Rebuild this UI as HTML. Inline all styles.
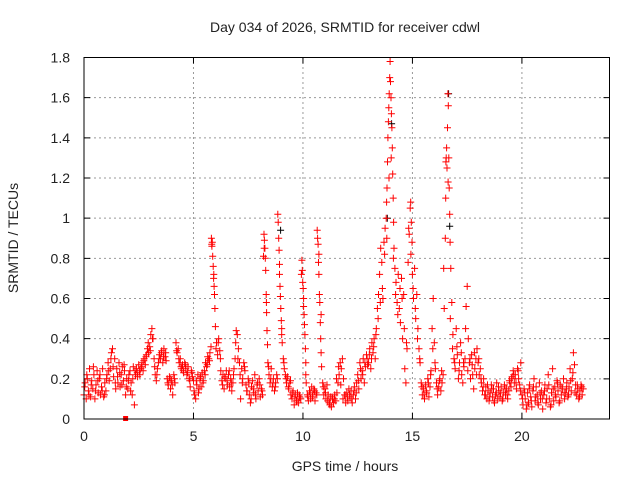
<!DOCTYPE html>
<html><head><meta charset="utf-8"><style>
body{margin:0;background:#fff}
svg text{font-family:"Liberation Sans",sans-serif;fill:#222}
</style></head><body>
<svg id="chart" width="640" height="480" viewBox="0 0 640 480" xmlns="http://www.w3.org/2000/svg">
<rect width="640" height="480" fill="#fff"/>
<text x="345" y="32" font-size="14" text-anchor="middle">Day 034 of 2026, SRMTID for receiver cdwl</text>
<text transform="translate(18,238) rotate(-90)" font-size="14" text-anchor="middle">SRMTID / TECUs</text>
<text x="345" y="471" font-size="14" text-anchor="middle">GPS time / hours</text>
<g id="grid"></g>
<g id="ticks"></g>
<g id="marks"></g>
<rect x="84" y="57.5" width="525.5" height="361.5" fill="none" stroke="#000" stroke-width="1"/>
</svg>
<script>
const xTicks=[0,5,10,15,20];
const yTicks=[0,0.2,0.4,0.6,0.8,1,1.2,1.4,1.6,1.8];
const yTickLabels=["0","0.2","0.4","0.6","0.8","1","1.2","1.4","1.6","1.8"];
const hours=[
0.00,0.05,0.10,0.15,0.20,0.25,0.30,0.35,0.40,0.45,
0.50,0.55,0.60,0.65,0.70,0.75,0.80,0.85,0.90,0.95,
1.00,1.05,1.10,1.15,1.20,1.25,1.30,1.35,1.40,1.45,
1.50,1.55,1.60,1.65,1.70,1.75,1.80,1.85,1.90,1.95,
2.00,2.05,2.10,2.15,2.20,2.25,2.30,2.35,2.40,2.45,
2.50,2.55,2.60,2.65,2.70,2.75,2.80,2.85,2.90,2.95,
3.00,3.05,3.10,3.15,3.20,3.25,3.30,3.35,3.40,3.45,
3.50,3.55,3.60,3.65,3.70,3.75,3.80,3.85,3.90,3.95,
4.00,4.05,4.10,4.15,4.20,4.25,4.30,4.35,4.40,4.45,
4.50,4.55,4.60,4.65,4.70,4.75,4.80,4.85,4.90,4.95,
5.00,5.05,5.10,5.15,5.20,5.25,5.30,5.35,5.40,5.45,
5.50,5.55,5.60,5.65,5.70,5.75,5.80,5.82,5.84,5.86,
5.88,5.90,5.92,5.94,5.96,5.98,6.00,6.05,6.10,6.15,
6.20,6.25,6.30,6.35,6.40,6.45,6.50,6.55,6.60,6.65,
6.70,6.75,6.80,6.85,6.90,6.95,7.00,7.05,7.10,7.15,
7.20,7.25,7.30,7.35,7.40,7.45,7.50,7.55,7.60,7.65,
7.70,7.75,7.80,7.85,7.90,7.95,8.00,8.05,8.10,8.15,
8.20,8.22,8.24,8.26,8.28,8.30,8.32,8.34,8.36,8.38,
8.40,8.45,8.50,8.55,8.60,8.65,8.70,8.75,8.80,8.85,
8.87,8.89,8.91,8.93,8.95,8.97,8.99,9.01,9.03,9.05,
9.10,9.15,9.20,9.25,9.30,9.35,9.40,9.45,9.50,9.55,
9.60,9.65,9.70,9.75,9.80,9.85,9.90,9.95,9.97,9.99,
10.01,10.03,10.05,10.07,10.09,10.11,10.13,10.15,10.20,10.25,
10.30,10.35,10.40,10.45,10.50,10.55,10.60,10.65,10.67,10.69,
10.71,10.73,10.75,10.77,10.79,10.81,10.83,10.85,10.90,10.95,
11.00,11.05,11.10,11.15,11.20,11.25,11.30,11.35,11.40,11.45,
11.50,11.55,11.60,11.65,11.70,11.75,11.80,11.85,11.90,11.95,
12.00,12.05,12.10,12.15,12.20,12.25,12.30,12.35,12.40,12.45,
12.50,12.55,12.60,12.65,12.70,12.75,12.80,12.85,12.90,12.95,
13.00,13.05,13.10,13.15,13.20,13.25,13.30,13.35,13.40,13.45,
13.50,13.55,13.60,13.65,13.70,13.75,13.80,13.82,13.84,13.86,
13.88,13.90,13.92,13.94,13.96,13.98,14.00,14.02,14.04,14.06,
14.08,14.10,14.12,14.14,14.16,14.20,14.25,14.30,14.35,14.40,
14.45,14.50,14.55,14.60,14.65,14.70,14.75,14.80,14.85,14.90,
14.92,14.95,14.98,15.00,15.05,15.10,15.15,15.20,15.25,15.30,
15.35,15.40,15.45,15.50,15.55,15.60,15.65,15.70,15.75,15.80,
15.85,15.90,15.95,16.00,16.05,16.10,16.15,16.20,16.25,16.30,
16.35,16.40,16.45,16.50,16.52,16.54,16.56,16.58,16.60,16.62,
16.64,16.66,16.68,16.70,16.72,16.75,16.80,16.85,16.90,16.95,
17.00,17.05,17.10,17.15,17.20,17.25,17.30,17.35,17.40,17.45,
17.50,17.55,17.60,17.65,17.70,17.75,17.80,17.85,17.90,17.95,
18.00,18.05,18.10,18.15,18.20,18.25,18.30,18.35,18.40,18.45,
18.50,18.55,18.60,18.65,18.70,18.75,18.80,18.85,18.90,18.95,
19.00,19.05,19.10,19.15,19.20,19.25,19.30,19.35,19.40,19.45,
19.50,19.55,19.60,19.65,19.70,19.75,19.80,19.85,19.90,19.95,
20.00,20.05,20.10,20.15,20.20,20.25,20.30,20.35,20.40,20.45,
20.50,20.55,20.60,20.65,20.70,20.75,20.80,20.85,20.90,20.95,
21.00,21.05,21.10,21.15,21.20,21.25,21.30,21.35,21.40,21.45,
21.50,21.55,21.60,21.65,21.70,21.75,21.80,21.85,21.90,21.95,
22.00,22.05,22.10,22.15,22.20,22.25,22.30,22.35,22.40,22.45,
22.50,22.55,22.60,22.65,22.70,22.75,22.80];
const tecu=[
0.12,0.18,0.10,0.20,0.14,0.25,0.11,0.19,0.15,0.22,
0.10,0.17,0.24,0.13,0.20,0.12,0.16,0.25,0.11,0.18,
0.14,0.22,0.28,0.19,0.25,0.33,0.35,0.21,0.30,0.15,
0.25,0.18,0.28,0.16,0.22,0.26,0.19,0.24,0.12,0.20,
0.15,0.22,0.24,0.18,0.12,0.26,0.07,0.22,0.25,0.21,
0.27,0.22,0.25,0.28,0.24,0.30,0.27,0.32,0.35,0.33,
0.36,0.42,0.45,0.40,0.30,0.22,0.19,0.25,0.28,0.32,
0.30,0.34,0.28,0.35,0.31,0.29,0.20,0.17,0.21,0.15,
0.19,0.12,0.22,0.18,0.38,0.33,0.35,0.28,0.30,0.25,
0.27,0.23,0.28,0.25,0.22,0.26,0.20,0.16,0.24,0.21,
0.19,0.12,0.10,0.17,0.22,0.15,0.20,0.16,0.23,0.19,
0.24,0.28,0.26,0.31,0.30,0.33,0.36,0.90,0.86,0.88,
0.81,0.76,0.70,0.66,0.62,0.55,0.46,0.38,0.32,0.40,
0.34,0.24,0.19,0.22,0.15,0.20,0.24,0.17,0.22,0.16,
0.20,0.14,0.18,0.25,0.30,0.44,0.42,0.35,0.28,0.10,
0.25,0.20,0.28,0.24,0.17,0.14,0.20,0.12,0.08,0.16,
0.19,0.13,0.22,0.10,0.17,0.14,0.20,0.11,0.15,0.12,
0.81,0.92,0.89,0.85,0.80,0.74,0.62,0.53,0.44,0.37,
0.28,0.22,0.18,0.25,0.16,0.20,0.14,0.18,0.22,1.02,
0.98,0.90,0.84,0.77,0.66,0.61,0.55,0.49,0.45,0.38,
0.30,0.25,0.22,0.18,0.21,0.15,0.18,0.12,0.10,0.14,
0.07,0.12,0.09,0.13,0.08,0.11,0.10,0.79,0.74,0.68,
0.65,0.60,0.52,0.47,0.42,0.35,0.28,0.18,0.12,0.09,
0.14,0.10,0.16,0.12,0.15,0.09,0.13,0.94,0.90,0.87,
0.78,0.72,0.62,0.58,0.48,0.40,0.33,0.26,0.18,0.12,
0.15,0.10,0.17,0.12,0.08,0.11,0.06,0.10,0.08,0.12,
0.09,0.13,0.18,0.22,0.28,0.25,0.30,0.20,0.12,0.08,
0.13,0.09,0.15,0.11,0.14,0.08,0.12,0.16,0.10,0.18,
0.22,0.15,0.28,0.20,0.24,0.30,0.18,0.26,0.32,0.27,
0.28,0.35,0.25,0.38,0.33,0.40,0.30,0.45,0.55,0.62,
0.72,0.85,0.78,0.60,0.88,0.95,1.00,1.08,1.15,1.28,
1.40,1.48,1.55,1.62,1.70,1.78,1.68,1.60,1.52,1.45,
1.35,1.22,1.10,0.98,0.85,0.75,0.68,0.58,0.72,0.55,
0.48,0.70,0.40,0.62,0.25,0.18,0.35,0.78,0.92,1.05,
1.08,0.98,0.88,0.72,0.60,0.75,0.50,0.62,0.45,0.35,
0.28,0.18,0.12,0.15,0.10,0.17,0.13,0.20,0.11,0.16,
0.24,0.45,0.60,0.38,0.25,0.18,0.12,0.16,0.20,0.14,
0.18,0.22,0.55,0.90,1.10,1.30,1.35,1.25,1.45,1.62,
1.56,1.30,1.15,1.02,0.88,0.75,0.58,0.42,0.30,0.25,
0.45,0.32,0.20,0.28,0.38,0.22,0.18,0.26,0.30,0.56,
0.66,0.40,0.28,0.20,0.32,0.22,0.15,0.25,0.30,0.35,
0.28,0.22,0.25,0.18,0.14,0.20,0.12,0.16,0.10,0.14,
0.09,0.13,0.17,0.11,0.15,0.08,0.12,0.18,0.10,0.14,
0.11,0.16,0.09,0.13,0.17,0.12,0.15,0.10,0.14,0.18,
0.16,0.21,0.24,0.18,0.22,0.15,0.25,0.20,0.17,0.28,
0.12,0.07,0.15,0.10,0.05,0.13,0.08,0.17,0.11,0.06,
0.14,0.20,0.09,0.16,0.12,0.07,0.18,0.10,0.14,0.05,
0.12,0.17,0.08,0.15,0.22,0.10,0.06,0.13,0.25,0.09,
0.16,0.11,0.19,0.14,0.08,0.17,0.12,0.15,0.20,0.10,
0.13,0.18,0.11,0.16,0.25,0.14,0.20,0.33,0.27,0.17,
0.12,0.15,0.10,0.14,0.17,0.12,0.15];
const hoursExtra=[
0.03,0.13,0.23,0.33,0.43,0.53,0.63,0.73,0.83,0.93,
1.03,1.13,1.23,1.33,1.43,1.53,1.63,1.73,1.83,1.93,
2.03,2.13,2.23,2.33,2.43,2.53,2.63,2.73,2.83,2.93,
3.03,3.13,3.23,3.33,3.43,3.53,3.63,3.73,3.83,3.93,
4.03,4.13,4.23,4.33,4.43,4.53,4.63,4.73,4.83,4.93,
5.03,5.13,5.23,5.33,5.43,5.53,5.63,5.73,5.83,5.93,
6.03,6.13,6.23,6.33,6.43,6.53,6.63,6.73,6.83,6.93,
7.03,7.13,7.23,7.33,7.43,7.53,7.63,7.73,7.83,7.93,
8.03,8.13,8.23,8.33,8.43,8.53,8.63,8.73,8.83,8.93,
9.03,9.13,9.23,9.33,9.43,9.53,9.63,9.73,9.83,9.93,
10.03,10.13,10.23,10.33,10.43,10.53,10.63,10.73,10.83,10.93,
11.03,11.13,11.23,11.33,11.43,11.53,11.63,11.73,11.83,11.93,
12.03,12.13,12.23,12.33,12.43,12.53,12.63,12.73,12.83,12.93,
13.03,13.13,13.23,13.33,13.43,13.53,13.63,13.73,13.83,13.93,
14.03,14.13,14.23,14.33,14.43,14.53,14.63,14.73,14.83,14.93,
15.03,15.13,15.23,15.33,15.43,15.53,15.63,15.73,15.83,15.93,
16.03,16.13,16.23,16.33,16.43,16.53,16.63,16.73,16.83,16.93,
17.03,17.13,17.23,17.33,17.43,17.53,17.63,17.73,17.83,17.93,
18.03,18.13,18.23,18.33,18.43,18.53,18.63,18.73,18.83,18.93,
19.03,19.13,19.23,19.33,19.43,19.53,19.63,19.73,19.83,19.93,
20.03,20.13,20.23,20.33,20.43,20.53,20.63,20.73,20.83,20.93,
21.03,21.13,21.23,21.33,21.43,21.53,21.63,21.73,21.83,21.93,
22.03,22.13,22.23,22.33,22.43,22.53,22.63,22.73];
const tecuExtra=[
0.16,0.22,0.12,0.17,0.26,0.14,0.19,0.22,0.14,0.12,
0.20,0.24,0.30,0.26,0.18,0.21,0.23,0.17,0.27,0.16,
0.19,0.14,0.20,0.24,0.23,0.24,0.26,0.29,0.31,0.38,
0.34,0.40,0.26,0.22,0.30,0.33,0.31,0.33,0.18,0.20,
0.17,0.20,0.34,0.30,0.26,0.24,0.27,0.23,0.19,0.23,
0.14,0.19,0.13,0.21,0.18,0.22,0.27,0.29,0.87,0.72,
0.35,0.38,0.30,0.17,0.21,0.19,0.24,0.18,0.22,0.38,
0.30,0.22,0.18,0.26,0.14,0.18,0.10,0.15,0.12,0.18,
0.17,0.14,0.85,0.58,0.26,0.20,0.18,0.16,0.20,0.72,
0.42,0.28,0.20,0.16,0.19,0.13,0.11,0.09,0.12,0.72,
0.56,0.22,0.11,0.13,0.11,0.14,0.12,0.82,0.52,0.16,
0.13,0.09,0.07,0.11,0.10,0.20,0.26,0.17,0.10,0.12,
0.11,0.12,0.10,0.14,0.13,0.19,0.25,0.22,0.28,0.30,
0.32,0.30,0.36,0.42,0.50,0.58,0.65,0.82,0.90,1.20,
1.30,0.80,0.62,0.52,0.65,0.60,0.45,0.38,0.95,0.82,
0.65,0.55,0.40,0.30,0.16,0.12,0.14,0.18,0.22,0.35,
0.28,0.15,0.19,0.24,0.75,1.28,1.18,0.50,0.35,0.28,
0.36,0.24,0.33,0.28,0.45,0.24,0.30,0.27,0.33,0.22,
0.30,0.20,0.16,0.12,0.17,0.11,0.15,0.09,0.13,0.16,
0.13,0.10,0.15,0.12,0.19,0.20,0.22,0.18,0.24,0.14,
0.10,0.13,0.07,0.15,0.09,0.16,0.11,0.08,0.13,0.10,
0.14,0.10,0.17,0.07,0.15,0.12,0.18,0.09,0.16,0.13,
0.15,0.12,0.19,0.23,0.13,0.17,0.11,0.16];
const hoursBlack=[8.98,13.85,14.05,16.65,16.7];
const tecuBlack=[0.94,1.00,1.47,1.62,0.96];
const hoursZero=[1.9];
const tecuZero=[0];

const X0=84,X1=609.5,Y0=419,Y1=57.5,XMAX=24,YMAX=1.8;
const xs=h=>X0+(X1-X0)*h/XMAX;
const ys=v=>Y0-(Y0-Y1)*v/YMAX;
const NS="http://www.w3.org/2000/svg";
const grid=document.getElementById('grid'),ticks=document.getElementById('ticks'),marks=document.getElementById('marks');
function mk(tag,attrs,parent){const e=document.createElementNS(NS,tag);for(const k in attrs)e.setAttribute(k,attrs[k]);parent.appendChild(e);return e;}
yTicks.forEach((v,i)=>{
  const y=ys(v);
  if(v>0&&v<YMAX){
    const g=mk('line',{x1:X0,x2:X1,y1:y,y2:y,stroke:'#999','stroke-dasharray':'2,3'},grid);
    
    
  }
  const t=mk('path',{d:`M${X0} ${y}h6M${X1} ${y}h-6`,stroke:'#000'},ticks);
  
  
  const l=mk('text',{x:X0-14,y:y+5,'font-size':'14','text-anchor':'end'},ticks);
  l.textContent=yTickLabels[i];
  
  
});
xTicks.forEach(h=>{
  const x=xs(h);
  if(h>0){
    const g=mk('line',{x1:x,x2:x,y1:Y0,y2:Y1,stroke:'#999','stroke-dasharray':'2,3'},grid);
    
    
  }
  const t=mk('path',{d:`M${x} ${Y0}v-6M${x} ${Y1}v6`,stroke:'#000'},ticks);
  
  
  const l=mk('text',{x:x,y:Y0+22,'font-size':'14','text-anchor':'middle'},ticks);
  l.textContent=String(h);
  
  
});
function plusPath(hs,vs){let d='';for(let i=0;i<hs.length;i++){const x=xs(hs[i]),y=ys(vs[i]);d+=`M${(x-3.5).toFixed(1)} ${y.toFixed(1)}h7M${x.toFixed(1)} ${(y-3.5).toFixed(1)}v7`;}return d;}
const pb=mk('path',{d:plusPath(hoursBlack,tecuBlack),stroke:'#000','stroke-width':'1',fill:'none'},marks);


const pr=mk('path',{d:plusPath(hours,tecu)+plusPath(hoursExtra,tecuExtra),stroke:'#f00','stroke-width':'1',fill:'none'},marks);


hoursZero.forEach((h,i)=>{
  const r=mk('rect',{x:xs(h)-2.5,y:ys(tecuZero[i])-3,width:5,height:5,fill:'#f00'},marks);
  
  
});
</script>
</body></html>
